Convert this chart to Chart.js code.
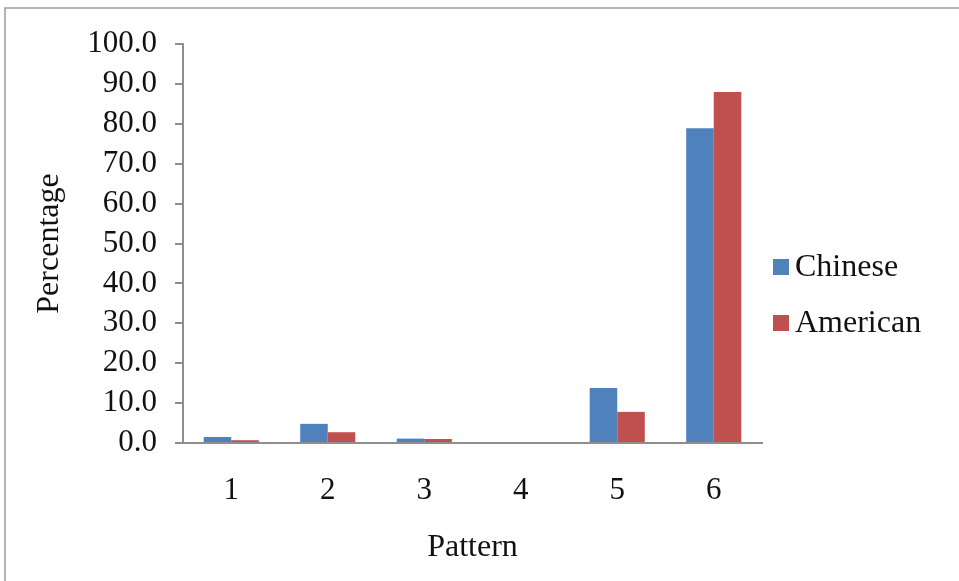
<!DOCTYPE html>
<html>
<head>
<meta charset="utf-8">
<script src="https://cdn.jsdelivr.net/npm/chart.js@4/dist/chart.umd.min.js"></script>
<style>
  body { margin: 0; background: #fff; }
  canvas { display: block; }
</style>
</head>
<body>
<canvas id="pattern-chart" width="959" height="581"></canvas>
<script>
const patterns = ['1', '2', '3', '4', '5', '6'];
const chineseValues = [1.5, 4.8, 1.1, 0, 13.8, 78.9];
const americanValues = [0.7, 2.7, 1.0, 0, 7.8, 88.0];
const yTicks = [0, 10, 20, 30, 40, 50, 60, 70, 80, 90, 100];

const serif = '"Liberation Serif", "Times New Roman", serif';
const axisGrey = '#8e8e8e';
const ink = '#111';

// grey frame round the chart (top + left edges visible in the reference)
const framePlugin = {
    id: 'frame',
    beforeDraw(chart) {
        const c = chart.ctx;
        c.save();
        c.strokeStyle = '#9a9a9a';
        c.lineWidth = 1.5;
        c.beginPath();
        c.moveTo(5, chart.height);
        c.lineTo(5, 8);
        c.lineTo(chart.width, 8);
        c.stroke();
        c.restore();
    },
};

// legend drawn by hand so the plot area keeps its width
const sideLegend = {
    id: 'sideLegend',
    afterDraw(chart) {
        const c = chart.ctx;
        const area = chart.chartArea;
        c.save();
        c.font = '32px ' + serif;
        c.textBaseline = 'middle';
        chart.data.datasets.forEach((ds, i) => {
            const y = 267 + i * 56;
            c.fillStyle = ds.backgroundColor;
            c.fillRect(area.right + 11, y - 8, 16, 16);
            c.fillStyle = ink;
            c.fillText(ds.label, area.right + 33, y + 1);
        });
        c.restore();
    },
};

new Chart(document.getElementById('pattern-chart'), {
    type: 'bar',
    data: {
        labels: patterns,
        datasets: [
            { label: 'Chinese', data: chineseValues, backgroundColor: '#4f81bd' },
            { label: 'American', data: americanValues, backgroundColor: '#c0504d' },
        ],
    },
    options: {
        responsive: false,
        animation: false,
        events: [],
        categoryPercentage: 0.571,
        barPercentage: 1,
        layout: { padding: { top: 44, right: 197, bottom: 0, left: 0 } },
        plugins: {
            legend: { display: false },
            tooltip: { enabled: false },
        },
        scales: {
            x: {
                grid: { display: false, drawTicks: false },
                border: { display: true, color: axisGrey, width: 2 },
                ticks: { color: ink, font: { family: serif, size: 31 }, padding: 29 },
                title: {
                    display: true,
                    text: 'Pattern',
                    color: ink,
                    font: { family: serif, size: 32 },
                    padding: { top: 0, bottom: 14 },
                },
                afterFit(scale) { scale.height = 581 - 443; },
            },
            y: {
                min: 0,
                max: 100,
                afterBuildTicks(scale) { scale.ticks = yTicks.map(v => ({ value: v })); },
                grid: { drawOnChartArea: false, drawTicks: true, tickLength: 8, color: axisGrey, lineWidth: 2 },
                border: { display: true, color: axisGrey, width: 2 },
                ticks: {
                    color: ink,
                    font: { family: serif, size: 31, lineHeight: 1 },
                    padding: 18,
                    autoSkip: false,
                    callback: v => v.toFixed(1),
                },
                title: {
                    display: true,
                    text: 'Percentage',
                    color: ink,
                    font: { family: serif, size: 32 },
                    padding: { top: 30, bottom: 0 },
                },
                afterFit(scale) { scale.width = 183; },
            },
        },
    },
    plugins: [framePlugin, sideLegend],
});
</script>
</body>
</html>
